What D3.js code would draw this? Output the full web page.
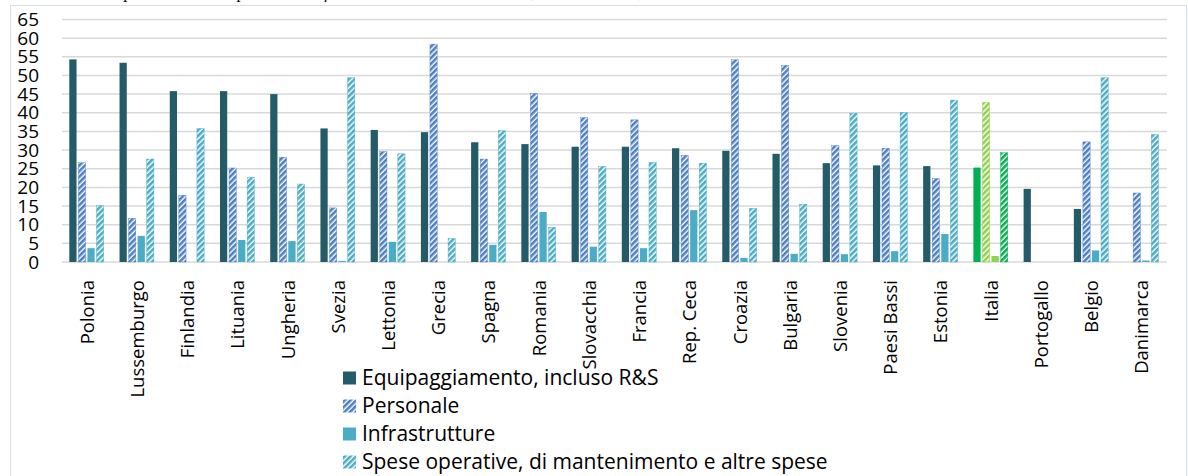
<!DOCTYPE html>
<html>
<head>
<meta charset="utf-8">
<script src="https://cdn.jsdelivr.net/npm/d3@7"></script>
<style>
  body { margin: 0; background: #fff; }
  svg { display: block; }
  text { font-family: "Open Sans", sans-serif; fill: #000; }
</style>
</head>
<body>
<div id="my_dataviz"></div>
<script>
// data
var countries = ["Polonia", "Lussemburgo", "Finlandia", "Lituania", "Ungheria", "Svezia", "Lettonia", "Grecia",
  "Spagna", "Romania", "Slovacchia", "Francia", "Rep. Ceca", "Croazia", "Bulgaria", "Slovenia",
  "Paesi Bassi", "Estonia", "Italia", "Portogallo", "Belgio", "Danimarca"];
var equipaggiamento = [54.3, 53.4, 45.8, 45.8, 45.0, 35.8, 35.4, 34.8, 32.1, 31.6, 30.9, 30.9, 30.5, 29.8, 29.0, 26.5, 25.9, 25.7, 25.3, 19.6, 14.2, 0];
var personale = [26.6, 11.7, 17.9, 25.2, 28.1, 14.5, 29.6, 58.4, 27.6, 45.2, 38.7, 38.1, 28.6, 54.2, 52.7, 31.2, 30.5, 22.4, 42.8, 0, 32.2, 18.5];
var infrastrutture = [3.7, 7.0, 0, 5.9, 5.6, 0.3, 5.4, 0, 4.6, 13.4, 4.1, 3.7, 13.9, 1.1, 2.2, 2.1, 2.9, 7.5, 1.6, 0, 3.1, 0.4];
var speseOperative = [15.1, 27.6, 35.8, 22.7, 20.9, 49.4, 29.0, 6.3, 35.2, 9.3, 25.6, 26.7, 26.5, 14.4, 15.5, 39.9, 40.1, 43.4, 29.3, 0, 49.4, 34.2];
var seriesNames = ["Equipaggiamento, incluso R&S", "Personale", "Infrastrutture", "Spese operative, di mantenimento e altre spese"];
var yTicks = [0, 5, 10, 15, 20, 25, 30, 35, 40, 45, 50, 55, 60, 65];

var keys = ["equip", "pers", "infra", "spese"];
var values = {equip: equipaggiamento, pers: personale, infra: infrastrutture, spese: speseOperative};
var hatched = {equip: false, pers: true, infra: false, spese: true};
var colors = {equip: "#245b69", pers: "#4e7fc4", infra: "#4bacc6", spese: "#4bacc6"};
var italiaColors = {equip: "#00b050", pers: "#92d050", infra: "#92d050", spese: "#00b050"};

var width = 1188, height = 476;
var plot = {left: 62, right: 1167, top: 19.5, bottom: 262};

var svg = d3.select("#my_dataviz")
  .append("svg")
    .attr("width", width)
    .attr("height", height);

// hatch patterns (wide upward diagonal)
var defs = svg.append("defs");
function makeHatch(id, color) {
  var p = defs.append("pattern")
    .attr("id", id)
    .attr("patternUnits", "userSpaceOnUse")
    .attr("width", 4)
    .attr("height", 4)
    .attr("patternTransform", "rotate(45)");
  p.append("rect").attr("width", 4).attr("height", 4).attr("fill", "#fff");
  p.append("rect").attr("width", 2.6).attr("height", 4).attr("fill", color);
}
makeHatch("hatch-pers", colors.pers);
makeHatch("hatch-spese", colors.spese);
makeHatch("hatch-it-pers", italiaColors.pers);
makeHatch("hatch-it-spese", italiaColors.spese);

function fillFor(key, country) {
  var it = country === "Italia";
  if (hatched[key]) return "url(#hatch-" + (it ? "it-" : "") + key + ")";
  return it ? italiaColors[key] : colors[key];
}
function strokeFor(key, country) {
  return country === "Italia" ? italiaColors[key] : colors[key];
}

// title, cut off at the top: only the descenders show
svg.append("text")
  .attr("x", 12)
  .attr("y", -2)
  .style("font-family", "'Liberation Serif', serif")
  .style("font-style", "italic")
  .style("font-size", "17px")
  .text("Tabella 3 – Composizione della spesa della difesa nei Paesi UE della NATO, in % del totale, anno 2023");

// chart frame
svg.append("rect")
  .attr("x", 10.5)
  .attr("y", 5.5)
  .attr("width", 1176)
  .attr("height", 490)
  .attr("fill", "#fff")
  .attr("stroke", "#d5deeb")
  .attr("stroke-width", 1);

// scales
var y = d3.scaleLinear()
  .domain([0, 65])
  .range([plot.bottom, plot.top]);

var x0 = d3.scaleBand()
  .domain(countries)
  .range([plot.left, plot.right])
  .padding(0);

var x1 = d3.scaleBand()
  .domain(keys)
  .range([7.3, 41.7])
  .paddingInner(0.2)
  .paddingOuter(0);

// gridlines
svg.append("g")
  .selectAll("line")
  .data(yTicks)
  .enter()
  .append("line")
    .attr("x1", plot.left)
    .attr("x2", plot.right)
    .attr("y1", function(d) { return y(d); })
    .attr("y2", function(d) { return y(d); })
    .attr("stroke", "#d9d9d9")
    .attr("stroke-width", 1.5);

// y axis labels
var yAxis = svg.append("g")
  .attr("transform", "translate(39,0)")
  .call(d3.axisLeft(y).tickValues(yTicks).tickSize(0).tickPadding(0));
yAxis.select(".domain").remove();
yAxis.selectAll("text")
  .style("font-family", "'Open Sans', sans-serif")
  .style("font-size", "19px")
  .attr("fill", "#000");

// bars
var groups = svg.append("g")
  .selectAll("g")
  .data(countries)
  .enter()
  .append("g")
    .attr("transform", function(d) { return "translate(" + x0(d) + ",0)"; });

groups.selectAll("rect")
  .data(function(c, i) {
    return keys.map(function(k) { return {key: k, country: c, value: values[k][i]}; });
  })
  .enter()
  .filter(function(d) { return d.value > 0; })
  .append("rect")
    .attr("x", function(d) { return x1(d.key); })
    .attr("y", function(d) { return y(d.value); })
    .attr("width", x1.bandwidth())
    .attr("height", function(d) { return y(0) - y(d.value); })
    .attr("fill", function(d) { return fillFor(d.key, d.country); })
    .attr("stroke", function(d) { return hatched[d.key] ? strokeFor(d.key, d.country) : "none"; })
    .attr("stroke-width", 0.4);

// x axis labels (rotated)
var xAxis = svg.append("g")
  .attr("transform", "translate(0,280)")
  .call(d3.axisBottom(x0).tickSize(0).tickPadding(0));
xAxis.select(".domain").remove();
xAxis.selectAll("text")
  .style("font-family", "'Open Sans', sans-serif")
  .style("font-size", "18.5px")
  .attr("fill", "#000")
  .attr("text-anchor", "end")
  .attr("y", 0)
  .attr("x", 0)
  .attr("dy", "0.35em")
  .attr("transform", "rotate(-90)");

// legend
var legend = svg.append("g")
  .selectAll("g")
  .data(seriesNames)
  .enter()
  .append("g")
    .attr("transform", function(d, i) { return "translate(343," + (378 + i * 28) + ")"; });

legend.append("rect")
  .attr("x", 0)
  .attr("y", -6.5)
  .attr("width", 13)
  .attr("height", 13)
  .attr("fill", function(d, i) { return fillFor(keys[i], ""); });

legend.append("text")
  .attr("x", 19)
  .attr("y", 0)
  .attr("dy", "0.35em")
  .style("font-size", "21px")
  .text(function(d) { return d; });
</script>
</body>
</html>
